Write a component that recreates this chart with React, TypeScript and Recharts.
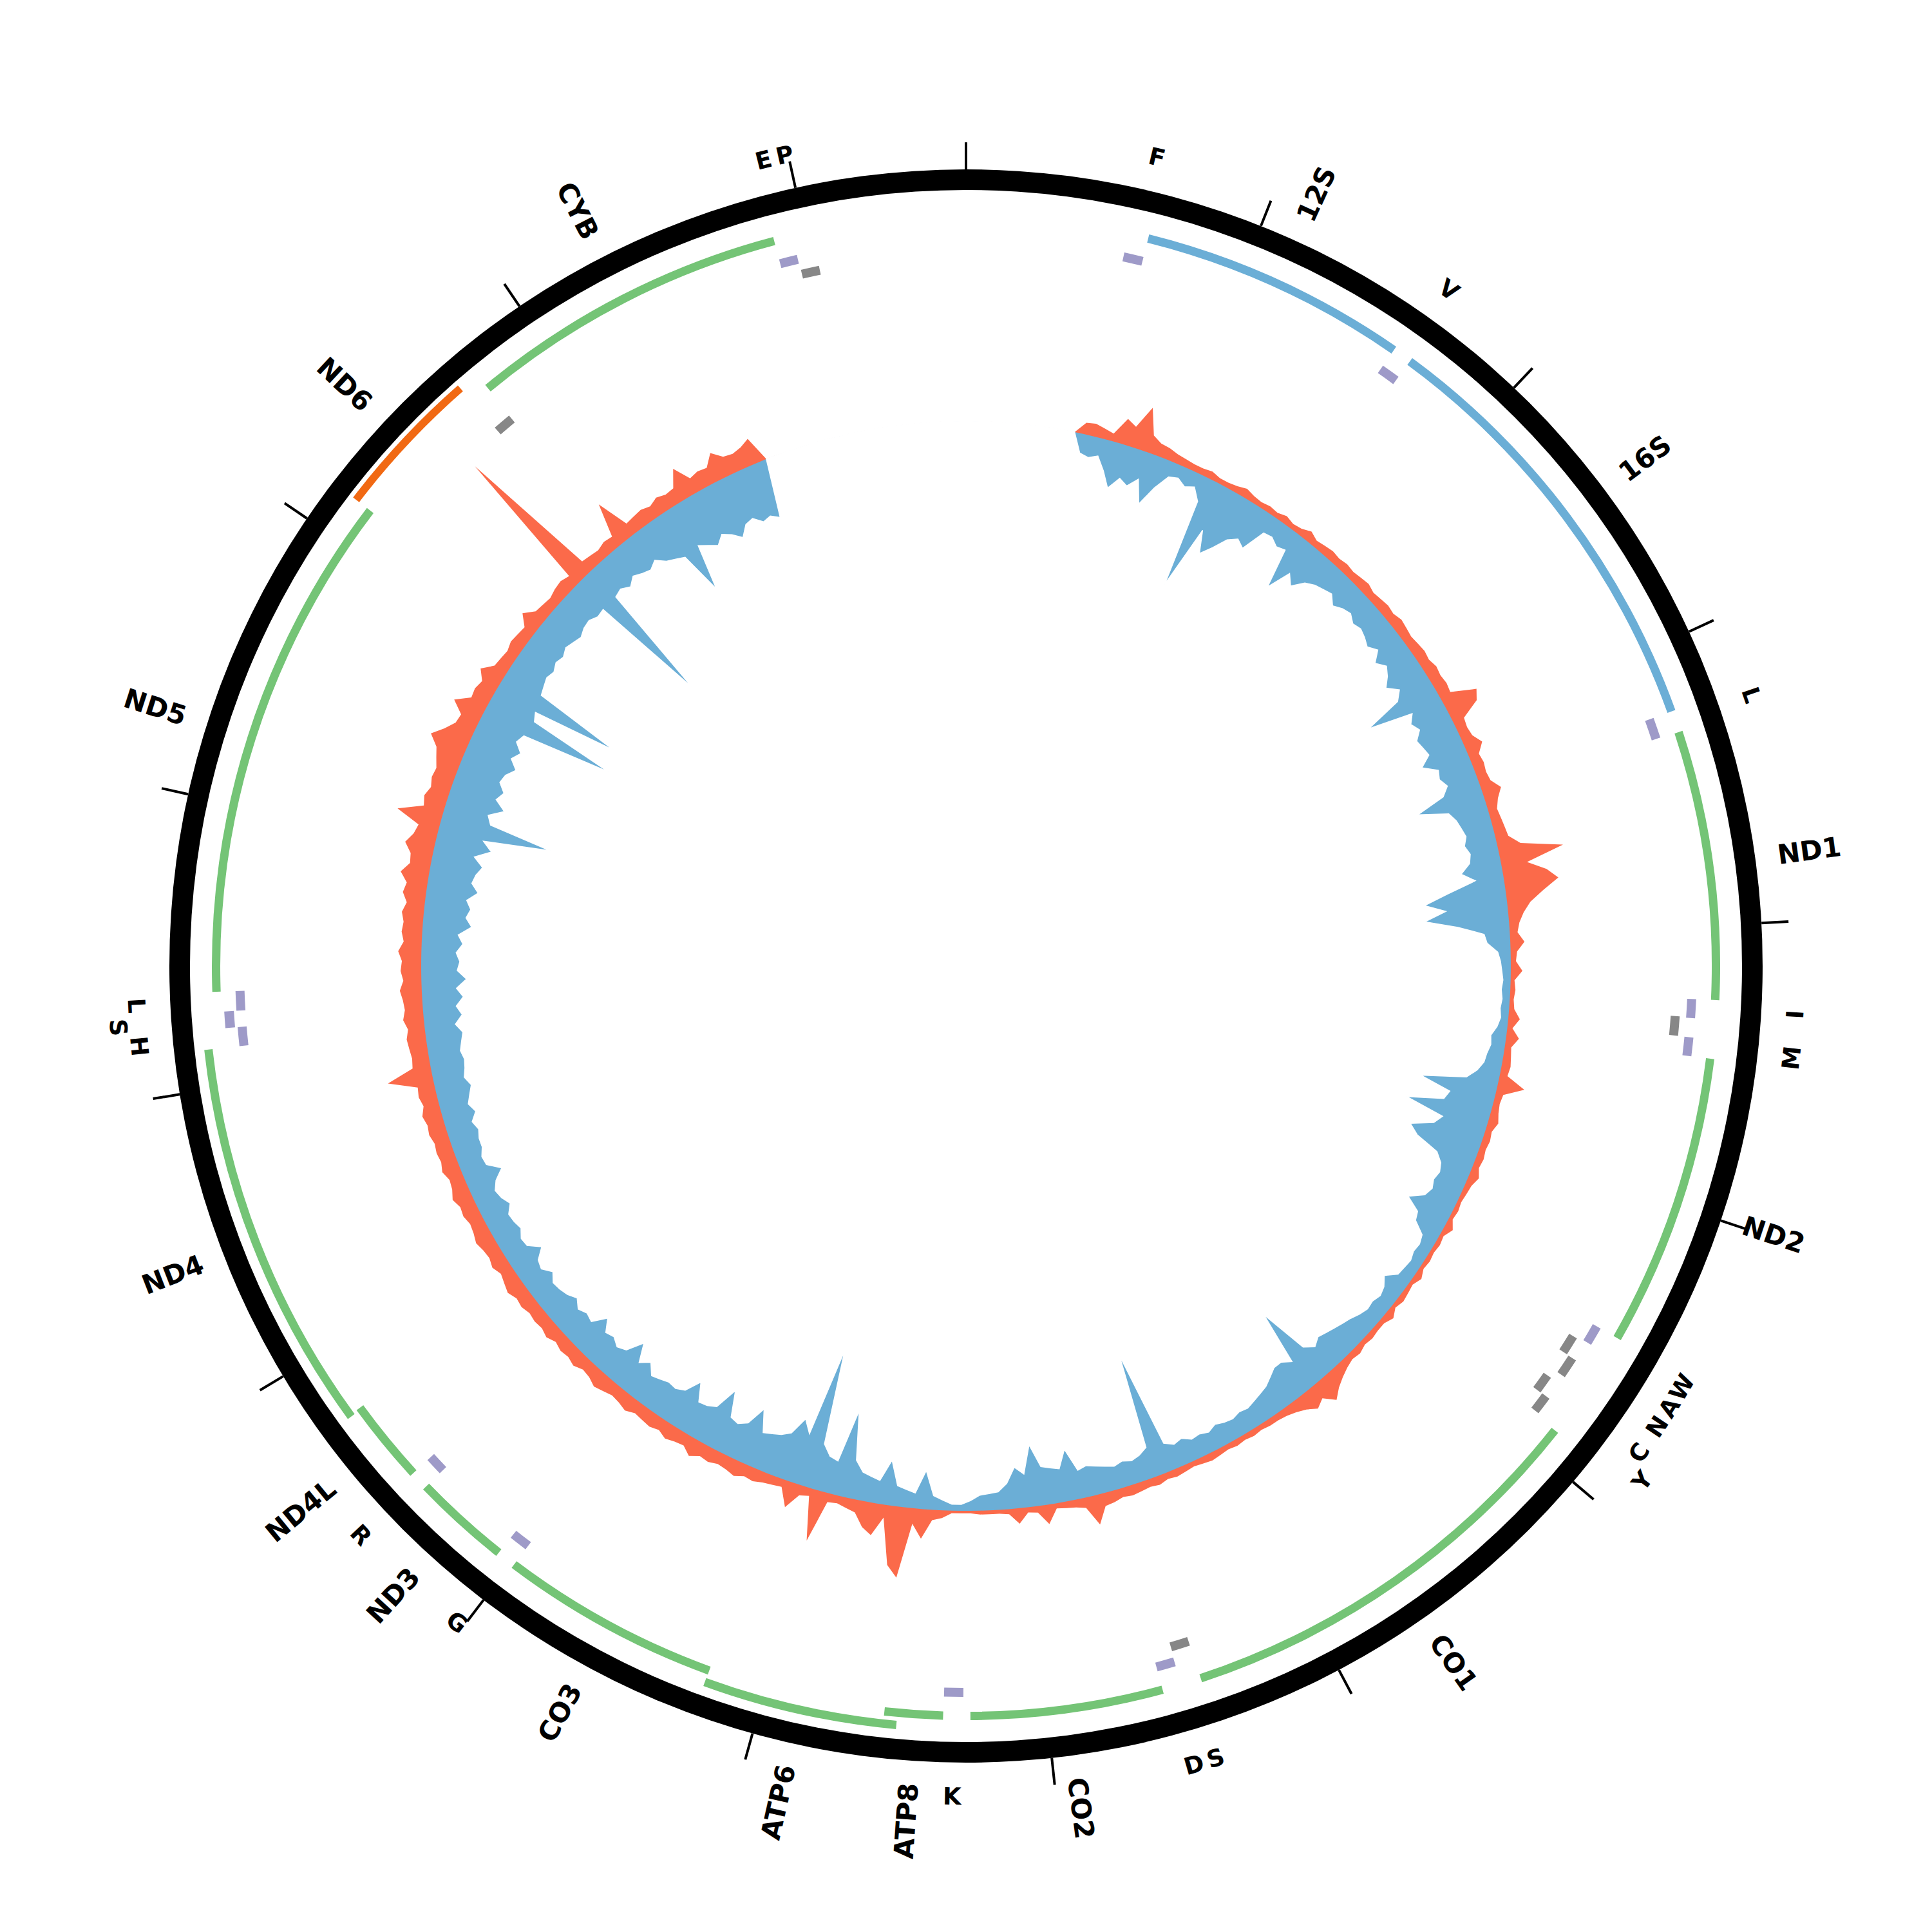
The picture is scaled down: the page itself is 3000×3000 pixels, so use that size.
import React from 'react';
import {
  PieChart,
  Pie,
  Cell,
  RadarChart,
  Radar,
  PolarAngleAxis,
  PolarRadiusAxis,
  RadialBarChart,
  RadialBar,
} from 'recharts';

const SIZE = 3000;
const CX = 1500;
const CY = 1500;
const GENOME_LEN = 16569;
const TICK_POS = [0, 1000, 2000, 3000, 4000, 5000, 6000, 7000, 8000, 9000, 10000, 11000, 12000, 13000, 14000, 15000, 16000];

// rRNA genes
const RRNA_NAMES = ['12S', '16S'];
const RRNA_START = [648, 1671];
const RRNA_END = [1601, 3229];

// protein coding genes
const CDS_NAMES = ['ND1', 'ND2', 'CO1', 'CO2', 'ATP8', 'ATP6', 'CO3', 'ND3', 'ND4L', 'ND4', 'ND5', 'ND6', 'CYB'];
const CDS_START = [3307, 4470, 5904, 7586, 8366, 8527, 9207, 10059, 10470, 10760, 12337, 14149, 14747];
const CDS_END = [4262, 5511, 7445, 8269, 8572, 9207, 9990, 10404, 10766, 12137, 14148, 14673, 15887];
const CDS_STRAND = ['+', '+', '+', '+', '+', '+', '+', '+', '+', '+', '+', '-', '+'];
const CDS_LEVEL = [0, 0, 0, 0, 0, 1, 0, 0, 0, 1, 0, 2, 0];

// tRNA genes
const TRNA_NAMES = ['F', 'V', 'L1', 'I', 'Q', 'M', 'W', 'A', 'N', 'C', 'Y', 'S1', 'D', 'K', 'G', 'R', 'H', 'S2', 'L2', 'E', 'T', 'P'];
const TRNA_START = [577, 1602, 3230, 4263, 4329, 4402, 5512, 5587, 5657, 5761, 5826, 7446, 7518, 8295, 9991, 10405, 12138, 12207, 12266, 14674, 15888, 15956];
const TRNA_END = [647, 1670, 3304, 4331, 4400, 4469, 5579, 5655, 5729, 5826, 5891, 7514, 7585, 8364, 10058, 10469, 12206, 12265, 12336, 14742, 15953, 16023];
const TRNA_STRAND = ['+', '+', '+', '+', '-', '+', '+', '-', '-', '-', '-', '-', '+', '+', '+', '+', '+', '+', '+', '-', '+', '-'];
const TRNA_LEVEL = [0, 0, 0, 0, 0, 0, 0, 0, 1, 0, 1, 0, 0, 0, 0, 0, 0, 1, 0, 0, 0, 0];
const TRNA_LABEL = ['F', 'V', 'L', 'I', '', 'M', 'W', 'A', 'N', 'C', 'Y', 'S', 'D', 'K', 'G', 'R', 'H', 'S', 'L', '', 'E', 'P'];
const TRNA_LABEL_LEVEL = [0, 0, 0, 0, 0, 0, 0, 0, 0, 0, 1, 0, 0, 0, 0, 0, 0, 1, 0, 0, 0, 0];

// coverage per 1 degree bin (360 bins), inward track
const FWD_DEPTH = [
  0, 0, 0, 0, 0, 0, 0, 0, 0, 0,
  0, 0, 15, 17, 14, 24, 36, 26, 30, 22,
  40, 24, 12, 10, 14, 11, 20, 89, 38, 55,
  46, 35, 30, 34, 15, 14, 18, 16, 47, 28,
  35, 26, 22, 20, 18, 24, 20, 18, 22, 20,
  22, 25, 20, 28, 22, 26, 32, 24, 30, 60,
  25, 30, 26, 32, 30, 28, 37, 26, 28, 24,
  30, 53, 30, 26, 24, 22, 25, 22, 24, 32,
  22, 45, 64, 48, 65, 40, 20, 18, 10, 8,
  7, 6, 7, 6, 7, 6, 8, 12, 11, 13,
  14, 18, 25, 60, 35, 38, 66, 35, 40, 57,
  49, 30, 24, 22, 24, 22, 25, 36, 24, 22,
  12, 10, 11, 9, 10, 11, 19, 14, 12, 14,
  13, 15, 18, 20, 22, 24, 26, 22, 28, 67,
  25, 30, 30, 26, 22, 20, 18, 16, 17, 15,
  16, 18, 15, 17, 16, 20, 18, 22, 98, 24,
  20, 18, 20, 18, 20, 22, 24, 22, 40, 26,
  28, 30, 48, 26, 32, 20, 14, 13, 12, 8,
  5, 5, 8, 11, 30, 12, 14, 16, 35, 18,
  20, 22, 30, 68, 26, 28, 36, 110, 40, 50,
  36, 32, 30, 28, 45, 30, 26, 28, 48, 30,
  27, 26, 40, 28, 25, 26, 24, 22, 30, 24,
  38, 25, 22, 26, 24, 33, 22, 24, 21, 26,
  22, 20, 19, 24, 18, 20, 28, 19, 18, 22,
  20, 19, 24, 20, 18, 22, 30, 20, 19, 22,
  22, 24, 21, 26, 22, 25, 28, 24, 26, 27,
  25, 27, 29, 24, 30, 26, 32, 27, 35, 28,
  30, 27, 32, 28, 38, 33, 36, 32, 40, 34,
  36, 40, 32, 44, 36, 88, 38, 34, 45, 36,
  40, 34, 36, 42, 35, 40, 33, 36, 107, 38,
  35, 102, 32, 30, 28, 30, 27, 29, 26, 28,
  30, 27, 26, 29, 28, 120, 28, 26, 30, 25,
  28, 30, 26, 32, 35, 38, 72, 36, 40, 44,
  38, 42, 48, 40, 38, 44, 42, 46, 0, 0,
  0, 0, 0, 0, 0, 0, 0, 0, 0, 0,
  0, 0, 0, 0, 0, 0, 0, 0, 0, 0,
];

// coverage per 1 degree bin (360 bins), outward track
const REV_DEPTH = [
  0, 0, 0, 0, 0, 0, 0, 0, 0, 0,
  0, 0, 9, 10, 8, 6, 20, 16, 34, 14,
  10, 9, 7, 6, 5, 5, 6, 4, 4, 5,
  7, 5, 4, 5, 4, 6, 4, 5, 8, 5,
  6, 7, 6, 7, 6, 7, 8, 6, 7, 8,
  7, 9, 8, 7, 8, 9, 8, 10, 9, 10,
  9, 28, 24, 9, 8, 9, 14, 8, 9, 8,
  9, 15, 10, 7, 8, 9, 10, 18, 50, 20,
  34, 42, 29, 18, 12, 8, 6, 11, 5, 4,
  9, 3, 4, 3, 4, 9, 4, 10, 5, 6,
  7, 6, 21, 6, 5, 6, 8, 5, 6, 5,
  6, 5, 8, 5, 4, 3, 4, 3, 7, 3,
  4, 3, 4, 3, 6, 3, 4, 5, 3, 7,
  4, 4, 5, 4, 6, 5, 7, 10, 14, 20,
  12, 16, 11, 8, 6, 5, 5, 4, 5, 4,
  5, 4, 5, 6, 5, 4, 5, 6, 5, 7,
  6, 7, 8, 7, 9, 10, 23, 8, 6, 5,
  4, 15, 5, 4, 12, 4, 3, 3, 3, 2,
  2, 2, 6, 8, 23, 12, 55, 46, 10, 25,
  20, 10, 8, 6, 7, 40, 6, 8, 20, 6,
  7, 8, 10, 9, 12, 10, 9, 11, 10, 14,
  9, 10, 12, 9, 11, 10, 9, 12, 10, 9,
  11, 13, 10, 9, 12, 10, 11, 9, 12, 10,
  11, 10, 12, 11, 14, 12, 10, 13, 11, 12,
  14, 12, 11, 13, 12, 15, 12, 11, 14, 12,
  13, 12, 14, 13, 15, 12, 14, 13, 35, 14,
  13, 14, 15, 13, 16, 14, 15, 17, 14, 16,
  15, 18, 14, 16, 15, 17, 14, 18, 16, 22,
  16, 17, 23, 18, 16, 35, 16, 18, 15, 17,
  16, 19, 22, 30, 22, 16, 15, 25, 14, 15,
  13, 19, 11, 10, 9, 11, 10, 9, 17, 10,
  9, 8, 10, 11, 9, 121, 10, 9, 8, 10,
  9, 35, 10, 11, 12, 10, 13, 11, 12, 25,
  12, 14, 13, 22, 15, 14, 16, 20, 0, 0,
  0, 0, 0, 0, 0, 0, 0, 0, 0, 0,
  0, 0, 0, 0, 0, 0, 0, 0, 0, 0,
];

const COLORS = {
  cdsPlus: '#74c476',
  cdsMinus: '#f16913',
  rrna: '#6baed6',
  trnaPlus: '#9e9ac8',
  trnaMinus: '#878787',
  fwd: '#6baed6',
  rev: '#fb6a4a',
};

// ring radii in px
const RING = [1205, 1237];
const TRACK_RADII: Record<string, number[]> = {
  main: [1158, 1171],
  cds1: [1177, 1190],
  cds2: [1186, 1198],
  trnaPlus0: [1121, 1135],
  trnaPlus1: [1139, 1154],
  trnaMinus0: [1097, 1111],
  trnaMinus1: [1114, 1128],
};
const COV_OUTER = 1200;
const COV_DOMAIN = [-423, 177];
const M0 = { top: 0, right: 0, bottom: 0, left: 0 };

const FEATURES = [
  ...RRNA_NAMES.map((n, i) => ({
    start: RRNA_START[i], end: RRNA_END[i], color: COLORS.rrna, text: n, kind: 'gene', labelLevel: 0, track: 'main',
  })),
  ...CDS_NAMES.map((n, i) => ({
    start: CDS_START[i], end: CDS_END[i],
    color: CDS_STRAND[i] === '+' ? COLORS.cdsPlus : COLORS.cdsMinus,
    text: n, kind: 'gene', labelLevel: 0, track: ['main', 'cds1', 'cds2'][CDS_LEVEL[i]],
  })),
  ...TRNA_NAMES.map((n, i) => ({
    start: TRNA_START[i], end: TRNA_END[i],
    color: TRNA_STRAND[i] === '+' ? COLORS.trnaPlus : COLORS.trnaMinus,
    text: TRNA_LABEL[i], kind: 'trna', labelLevel: TRNA_LABEL_LEVEL[i],
    track: (TRNA_STRAND[i] === '+' ? 'trnaPlus' : 'trnaMinus') + TRNA_LEVEL[i],
  })),
];

function buildSegments(track: string) {
  const feats = FEATURES.filter((f) => f.track === track).sort((a, b) => a.start - b.start);
  const segs: any[] = [];
  let pos = 0;
  feats.forEach((f) => {
    if (f.start - 1 > pos) segs.push({ value: f.start - 1 - pos, fill: 'none', txt: '' });
    segs.push({ value: f.end - f.start + 1, fill: f.color, txt: f.text, kind: f.kind, labelLevel: f.labelLevel });
    pos = f.end;
  });
  if (pos < GENOME_LEN) segs.push({ value: GENOME_LEN - pos, fill: 'none', txt: '' });
  return segs;
}

const COVERAGE_TABLE = FWD_DEPTH.map((d, i) => ({ bin: i, rev: REV_DEPTH[i], base: 0, fwd: -d }));
const BIN_DEG = 360 / FWD_DEPTH.length;

const renderLabel = (props: any) => {
  const { cx, cy, midAngle, payload } = props;
  if (!payload || !payload.txt) return null;
  const phi = (((90 - midAngle) % 360) + 360) % 360;
  const rad = (phi * Math.PI) / 180;
  let r: number;
  let rot: number;
  let anchor: string;
  let size: number;
  if (payload.kind === 'gene') {
    r = 1272;
    size = 42;
    if (phi < 180) {
      rot = phi - 90;
      anchor = 'start';
    } else {
      rot = phi - 270;
      anchor = 'end';
    }
  } else {
    r = 1290 + payload.labelLevel * 30;
    size = 37;
    anchor = 'middle';
    rot = phi > 90 && phi < 270 ? phi - 180 : phi > 270 ? phi - 360 : phi;
  }
  const x = cx + r * Math.sin(rad);
  const y = cy - r * Math.cos(rad);
  return (
    <text
      x={x}
      y={y}
      transform={`rotate(${rot}, ${x}, ${y})`}
      textAnchor={anchor}
      dominantBaseline="central"
      fontFamily="DejaVu Sans"
      fontWeight="bold"
      fontSize={size}
      fill="#000"
    >
      {payload.txt}
    </text>
  );
};

const layer: React.CSSProperties = { position: 'absolute', left: 0, top: 0 };

export default function App() {
  const trackKeys = Object.keys(TRACK_RADII);
  return (
    <div style={{ position: 'absolute', left: 0, top: 0, width: SIZE, height: SIZE, background: '#fff' }}>
      {/* coverage */}
      <div style={layer}>
        <RadarChart
          width={SIZE}
          height={SIZE}
          cx={CX}
          cy={CY}
          innerRadius={0}
          outerRadius={COV_OUTER}
          startAngle={90 - BIN_DEG / 2}
          endAngle={90 - BIN_DEG / 2 - 360}
          data={COVERAGE_TABLE}
          margin={M0}
        >
          <PolarAngleAxis dataKey="bin" tick={false} tickLine={false} axisLine={false} />
          <PolarRadiusAxis type="number" domain={COV_DOMAIN} allowDataOverflow tick={false} axisLine={false} />
          <Radar dataKey="rev" fill={COLORS.rev} fillOpacity={1} stroke="none" dot={false} isAnimationActive={false} />
          <Radar dataKey="base" fill={COLORS.fwd} fillOpacity={1} stroke="none" dot={false} isAnimationActive={false} />
          <Radar dataKey="fwd" fill="#fff" fillOpacity={1} stroke="#fff" strokeWidth={1.5} dot={false} isAnimationActive={false} />
        </RadarChart>
      </div>

      {/* genome ring and feature tracks */}
      <div style={layer}>
        <PieChart width={SIZE} height={SIZE} margin={M0}>
          <Pie
            data={[{ name: 'genome', value: GENOME_LEN }]}
            dataKey="value"
            cx={CX}
            cy={CY}
            innerRadius={RING[0]}
            outerRadius={RING[1]}
            startAngle={90}
            endAngle={-270}
            stroke="none"
            fill="#000"
            isAnimationActive={false}
          />
          {trackKeys.map((key) => {
            const segs = buildSegments(key);
            return (
              <Pie
                key={key}
                data={segs}
                dataKey="value"
                cx={CX}
                cy={CY}
                innerRadius={TRACK_RADII[key][0]}
                outerRadius={TRACK_RADII[key][1]}
                startAngle={90}
                endAngle={-270}
                stroke="none"
                label={renderLabel}
                labelLine={false}
                isAnimationActive={false}
              >
                {segs.map((s, i) => (
                  <Cell key={`${key}-${i}`} fill={s.fill} />
                ))}
              </Pie>
            );
          })}
        </PieChart>
      </div>

      {/* position ticks every 1 kb */}
      <div style={layer}>
        <RadialBarChart
          width={SIZE}
          height={SIZE}
          cx={CX}
          cy={CY}
          innerRadius={0}
          outerRadius={RING[1]}
          startAngle={90}
          endAngle={-270}
          data={[{ name: 'genome', len: GENOME_LEN }]}
          margin={M0}
        >
          <PolarAngleAxis
            type="number"
            domain={[0, GENOME_LEN]}
            allowDataOverflow
            ticks={TICK_POS}
            tick={false}
            axisLine={false}
            stroke="#000"
            tickLine={{ stroke: '#000', strokeWidth: 4 }}
            tickSize={42}
          />
          <RadialBar dataKey="len" fill="none" stroke="none" isAnimationActive={false} />
        </RadialBarChart>
      </div>
    </div>
  );
}
